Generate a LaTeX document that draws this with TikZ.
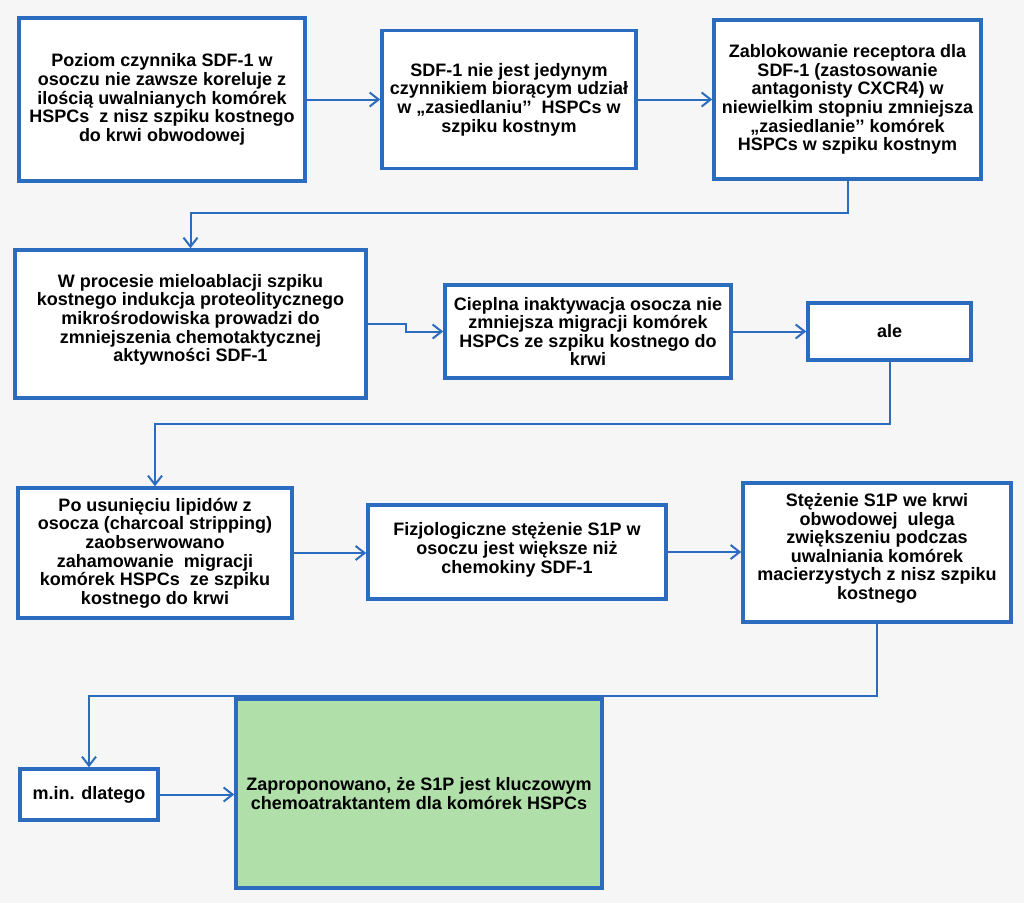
\documentclass[tikz,border=0pt]{standalone}
\usepackage{fontspec}
\setmainfont{Liberation Sans}
\usetikzlibrary{arrows.meta}
\definecolor{boxblue}{RGB}{44,108,190}
\definecolor{bggray}{RGB}{246,246,246}
\definecolor{boxgreen}{RGB}{176,223,170}
\tikzset{
  stepbox/.style={draw=boxblue, line width=3.5pt, fill=white, rectangle, inner sep=0pt, align=center,
    font=\fontsize{18}{18.6}\selectfont\bfseries, text=black},
  conn/.style={draw=boxblue, line width=2pt, -{Straight Barb[length=9pt,width=14pt,line width=2pt]}},
}
\begin{document}
\begin{tikzpicture}[x=1pt,y=-1pt]
\fill[bggray] (0,0) rectangle (1024,903);
\useasboundingbox (0,0) rectangle (1024,903);

\node[stepbox, minimum width=286, minimum height=163] (b1) at (162,99.5)
  {Poziom czynnika SDF-1 w\\osoczu nie zawsze koreluje z\\ilością uwalnianych komórek\\HSPCs\ \ z nisz szpiku kostnego\\do krwi obwodowej};
\node[stepbox, minimum width=254, minimum height=138] (b2) at (509,99.5)
  {SDF-1 nie jest jedynym\\czynnikiem biorącym udział\\w „zasiedlaniu’’\ \ HSPCs w\\szpiku kostnym};
\node[stepbox, minimum width=267, minimum height=159] (b3) at (847.5,99.5)
  {Zablokowanie receptora dla\\SDF-1 (zastosowanie\\antagonisty CXCR4) w\\niewielkim stopniu zmniejsza\\„zasiedlanie’’ komórek\\HSPCs w szpiku kostnym};
\node[stepbox, minimum width=351, minimum height=148] (b4) at (190.5,324)
  {W procesie mieloablacji szpiku\\kostnego indukcja proteolitycznego\\mikrośrodowiska prowadzi do\\zmniejszenia chemotaktycznej\\aktywności SDF-1\rule[-12pt]{0pt}{0pt}};
\node[stepbox, minimum width=286, minimum height=93] (b5) at (588,331.5)
  {Cieplna inaktywacja osocza nie\\zmniejsza migracji komórek\\HSPCs ze szpiku kostnego do\\krwi};
\node[stepbox, minimum width=163, minimum height=57] (b6) at (889.5,331.5) {ale};
\node[stepbox, minimum width=274, minimum height=130] (b7) at (155,553)
  {Po usunięciu lipidów z\\osocza (charcoal stripping)\\zaobserwowano\\zahamowanie\ \ migracji\\komórek HSPCs\ \ ze szpiku\\kostnego do krwi};
\node[stepbox, minimum width=298, minimum height=94] (b8) at (517,552)
  {Fizjologiczne stężenie S1P w\\osoczu jest większe niż\\chemokiny SDF-1\rule[-8pt]{0pt}{0pt}};
\node[stepbox, minimum width=268, minimum height=139] (b9) at (877,552.5)
  {Stężenie S1P we krwi\\obwodowej\ \ ulega\\zwiększeniu podczas\\uwalniania komórek\\macierzystych z nisz szpiku\\kostnego\rule[-12pt]{0pt}{0pt}};
\node[stepbox, minimum width=138, minimum height=51] (b10) at (89,794.5) {m.in. dlatego};
\node[stepbox, fill=boxgreen, minimum width=366, minimum height=189] (b11) at (419,793.5)
  {Zaproponowano, że S1P jest kluczowym\\chemoatraktantem dla komórek HSPCs};

\coordinate (k1) at (406,324);
\coordinate (r1) at (0,213);
\coordinate (r2) at (0,424);
\coordinate (r3) at (0,696);

\draw[conn] (b1.east) -- (b1.east -| b2.west);
\draw[conn] (b2.east) -- (b2.east -| b3.west);
\draw[conn] (b3.south) -- (b3.south |- r1) -| (b4.north);
\draw[conn] (b4.east) -- (b4.east -| k1) -- (k1 |- b5.west) -- (b5.west);
\draw[conn] (b5.east) -- (b6.west);
\draw[conn] (b6.south) -- (b6.south |- r2) -| (b7.north);
\draw[conn] (b7.east) -- (b7.east -| b8.west);
\draw[conn] (b8.east) -- (b8.east -| b9.west);
\draw[conn] (b9.south) -- (b9.south |- r3) -| (b10.north);
\draw[conn] (b10.east) -- (b10.east -| b11.west);
\end{tikzpicture}
\end{document}
